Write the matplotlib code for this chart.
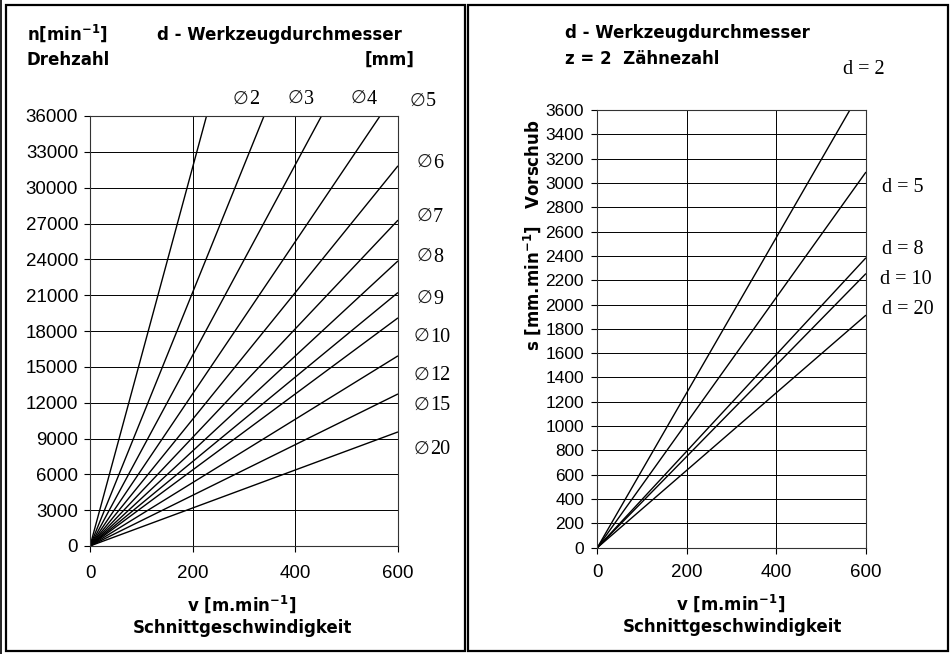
import matplotlib
matplotlib.use("Agg")
import matplotlib.pyplot as plt
from matplotlib.patches import Rectangle
from matplotlib.lines import Line2D

plt.rcParams['font.family'] = ['Liberation Sans', 'DejaVu Sans']
plt.rcParams['mathtext.fontset'] = 'custom'
plt.rcParams['mathtext.rm'] = 'DejaVu Sans'
plt.rcParams['mathtext.bf'] = 'DejaVu Sans:bold'

# ---- Data: left panel (spindle speed n vs cutting speed v) ----
left_diam = [2, 3, 4, 5, 6, 7, 8, 9, 10, 12, 15, 20]
left_v_end = [227, 339, 451, 565, 600, 600, 600, 600, 600, 600, 600, 600]
left_n_end = [36000, 36000, 36000, 36000, 31830, 27280, 23870, 21220,
              19100, 15920, 12730, 9550]
left_labels = ["2", "3", "4", "5", "6", "7", "8", "9",
               "10", "12", "15", "20"]
left_yticks = list(range(0, 36001, 3000))
xticks = [0, 200, 400, 600]

# ---- Data: right panel (feed s vs cutting speed v) ----
right_diam = [2, 5, 8, 10, 20]
right_v_end = [564, 600, 600, 600, 600]
right_s_end = [3600, 3090, 2385, 2255, 1913]
right_labels = ["d = 2", "d = 5", "d = 8", "d = 10", "d = 20"]
right_yticks = list(range(0, 3601, 200))

W, H = 950, 654
fig = plt.figure(figsize=(W / 100, H / 100), dpi=100)


def fx(px):
    return px / W


def fy(py):
    return 1 - py / H


# borders
fig.add_artist(Rectangle((fx(6), fy(651)), fx(465) - fx(6), fy(5) - fy(651),
                         transform=fig.transFigure, fill=False, lw=1.6, ec='black'))
fig.add_artist(Rectangle((fx(467.5), fy(651)), fx(948) - fx(467.5), fy(5) - fy(651),
                         transform=fig.transFigure, fill=False, lw=1.6, ec='black'))
fig.add_artist(Line2D([fx(1.2), fx(1.2)], [fy(0), fy(654)], transform=fig.transFigure,
                      lw=1.2, color='black'))

grid_kw = dict(color='black', lw=0.7)


def style_axes(ax, xpad, ypad, ysize):
    for s in ax.spines.values():
        s.set_linewidth(0.8)
        s.set_color('#333333')
    ax.tick_params(axis='y', direction='out', length=4.5, width=0.8, pad=ypad,
                   labelsize=ysize)
    ax.tick_params(axis='x', direction='out', length=4, width=0.8, pad=xpad,
                   labelsize=13.5)
    ax.grid(True, **grid_kw)
    ax.set_axisbelow(True)


# ---- Left axes ----
axL = fig.add_axes([fx(90), fy(546), fx(398) - fx(90), fy(116) - fy(546)])
for v, n in zip(left_v_end, left_n_end):
    axL.plot([0, v], [0, n], color='black', lw=1.0, solid_capstyle='butt')
axL.set_xlim(0, 600)
axL.set_ylim(0, 36000)
axL.set_xticks(xticks)
axL.set_yticks(left_yticks)
style_axes(axL, 9.5, 4, 13.5)

serif = ['Liberation Serif', 'DejaVu Serif']
# diameter labels: symbol (DejaVu Sans) + number (serif)
top_pos = [(245, 100), (300, 99), (363, 99), (422, 102)]
right_pos = [(429, 163), (429, 217), (429, 257), (429, 299), (430, 337),
             (430, 376), (430, 406), (430, 450)]
for lab, (x, y) in zip(left_labels, top_pos + right_pos):
    xs = x + 3 if len(lab) == 1 else x - 1
    fig.text(fx(xs), fy(y - 1.5), "\u2205", family=['DejaVu Sans'], fontsize=13,
             ha='right', va='center', color='#222222')
    fig.text(fx(xs + 1), fy(y), lab, family=serif, fontsize=14.5, ha='left',
             va='center')

bold = dict(fontweight='bold', fontsize=12, family=['DejaVu Sans'])
fig.text(fx(27), fy(40), r"n[min$^{\mathbf{-1}}$]", ha='left', va='baseline', **bold)
fig.text(fx(27), fy(65), "Drehzahl", ha='left', va='baseline', **bold)
fig.text(fx(157), fy(40), "d - Werkzeugdurchmesser", ha='left', va='baseline', **bold)
fig.text(fx(414), fy(65), "[mm]", ha='right', va='baseline', **bold)
fig.text(fx(242), fy(604), r"v [m.min$^{\mathbf{-1}}$]", ha='center', va='center', **bold)
fig.text(fx(242), fy(628), "Schnittgeschwindigkeit", ha='center', va='center', **bold)

# ---- Right axes ----
axR = fig.add_axes([fx(597.3), fy(547.7), fx(866) - fx(597.3), fy(110) - fy(547.7)])
for v, s in zip(right_v_end, right_s_end):
    axR.plot([0, v], [0, s], color='black', lw=1.0, solid_capstyle='butt')
axR.set_xlim(0, 600)
axR.set_ylim(0, 3600)
axR.set_xticks(xticks)
axR.set_yticks(right_yticks)
style_axes(axR, 8, 5, 12.5)

rlab_pos = [(843, 70), (882, 187), (882, 249), (880, 279), (882, 310)]
for lab, (x, y) in zip(right_labels, rlab_pos):
    fig.text(fx(x), fy(y), lab, family=serif, fontsize=14.5, ha='left', va='center')

fig.text(fx(565), fy(38), "d - Werkzeugdurchmesser", ha='left', va='baseline', **bold)
fig.text(fx(565), fy(64), "z = 2  Zähnezahl", ha='left', va='baseline', **bold)
fig.text(fx(532), fy(235), r"s [mm.min$^{\mathbf{-1}}$]   Vorschub", rotation=90,
         ha='center', va='center', **bold)
fig.text(fx(731), fy(603), r"v [m.min$^{\mathbf{-1}}$]", ha='center', va='center', **bold)
fig.text(fx(732), fy(627), "Schnittgeschwindigkeit", ha='center', va='center', **bold)

fig.savefig("out.png", dpi=100)
